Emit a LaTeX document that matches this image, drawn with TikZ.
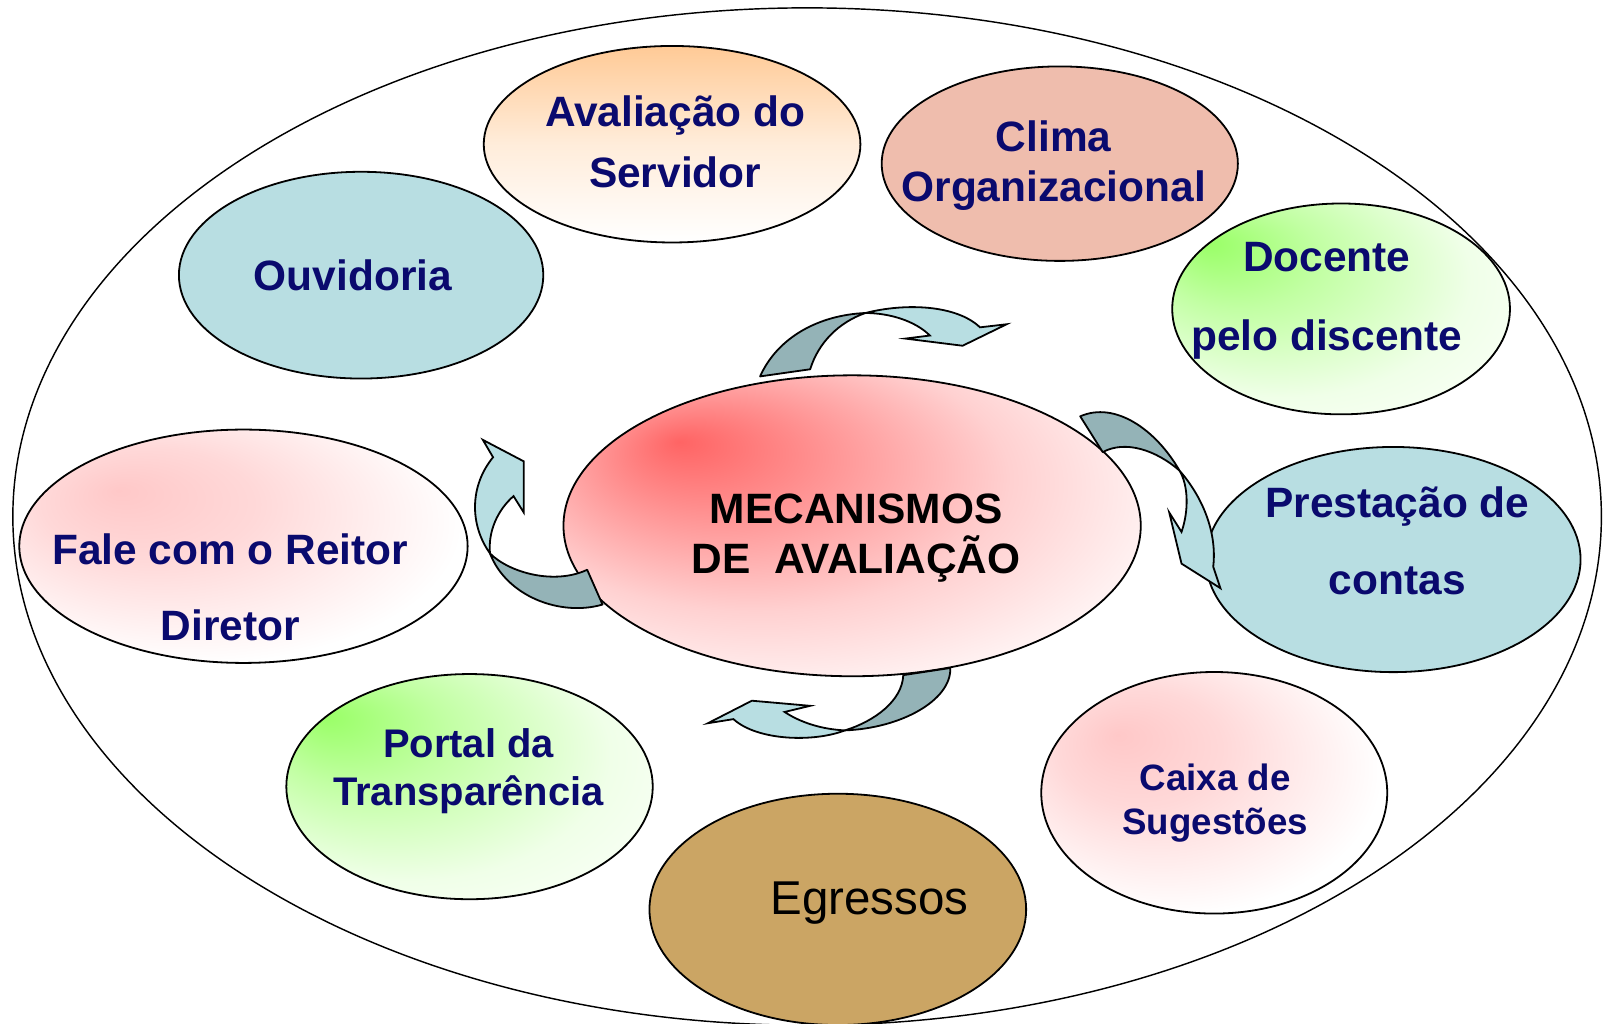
\documentclass[tikz,border=0pt]{standalone}
\usepackage{fontspec}
\setmainfont{Liberation Sans}
\usetikzlibrary{shapes.geometric}

\definecolor{navytext}{HTML}{0A0A6E}
\definecolor{paleblue}{HTML}{B8DEE2}
\definecolor{darkribbon}{HTML}{94B3B7}
\definecolor{salmon}{HTML}{EFBDAD}
\definecolor{tan}{HTML}{CBA564}
\definecolor{glowred}{HTML}{FF6464}
\definecolor{glowgreen}{HTML}{99FF66}
\definecolor{glowpink}{HTML}{FFC8C8}
\definecolor{gloworange}{HTML}{FFCA96}

% corner glows
\pgfdeclareradialshading{redglow}{\pgfpoint{-15bp}{14bp}}{color(0bp)=(glowred);color(8bp)=(glowred!75!white);color(22bp)=(glowred!30!white);color(36bp)=(white);color(50bp)=(white)}
\pgfdeclareradialshading{greenglow}{\pgfpoint{-20bp}{16bp}}{color(0bp)=(glowgreen);color(12bp)=(glowgreen!60!white);color(28bp)=(glowgreen!15!white);color(42bp)=(white);color(50bp)=(white)}
\pgfdeclareradialshading{pinkglow}{\pgfpoint{-14bp}{12bp}}{color(0bp)=(glowpink);color(12bp)=(glowpink!70!white);color(30bp)=(white);color(50bp)=(white)}

\begin{document}
\begin{tikzpicture}[x=0.01cm, y=-0.01cm]
\tikzstyle{bubble}=[ellipse, draw=black, line width=0.5pt, inner sep=0pt]
\tikzstyle{lbl}=[font=\fontsize{11.8}{14}\selectfont\bfseries, text=navytext, align=center, inner sep=0pt]
\tikzstyle{ribbonback}=[fill=darkribbon, draw=black, line width=0.5pt, line join=round]
\tikzstyle{ribbonfront}=[fill=paleblue, draw=black, line width=0.5pt, line join=miter]
    \useasboundingbox (0,0) rectangle (1568,1001);
    \fill[white] (0,0) rectangle (1568,1001);

    \node[bubble, line width=0.4pt, minimum width=15.52cm, minimum height=9.94cm] (rim) at (789,505) {};

    \node[bubble, top color=gloworange, bottom color=white, middle color=gloworange!35!white,
          minimum width=3.68cm, minimum height=1.92cm] (servidor) at (657,141) {};
    \node[bubble, fill=salmon, minimum width=3.48cm, minimum height=1.90cm] (clima) at (1036,160) {};
    \node[bubble, fill=paleblue, minimum width=3.56cm, minimum height=2.02cm] (ouvidoria) at (353,269) {};
    \node[bubble, shade, shading=greenglow, minimum width=3.30cm, minimum height=2.06cm] (docente) at (1311,302) {};
    \node[bubble, shade, shading=pinkglow, minimum width=4.38cm, minimum height=2.28cm] (reitor) at (238,534) {};
    \node[bubble, fill=paleblue, minimum width=3.66cm, minimum height=2.20cm] (contas) at (1362,547) {};
    \node[bubble, shade, shading=greenglow, minimum width=3.58cm, minimum height=2.20cm] (portal) at (459,769) {};
    \node[bubble, shade, shading=pinkglow, minimum width=3.38cm, minimum height=2.36cm] (caixa) at (1187,775) {};
    \node[bubble, fill=tan, minimum width=3.68cm, minimum height=2.26cm] (egressos) at (819,889) {};
    \node[bubble, shade, shading=redglow, minimum width=5.64cm, minimum height=2.94cm] (centro) at (833,514) {};

    % curved arrows round the centre
    \filldraw[ribbonback] (743,368) .. controls (760,330) and (800,308) .. (846,306)
        .. controls (820,315) and (800,335) .. (792,361) -- cycle;
    \filldraw[ribbonfront] (846,306) .. controls (885,296) and (935,298) .. (958,320)
        -- (984,317) -- (941,338) -- (885,331) -- (909,328)
        .. controls (895,314) and (870,306) .. cycle;

    \filldraw[ribbonback] (1056,407) .. controls (1090,392) and (1130,420) .. (1153,460)
        .. controls (1130,440) and (1100,430) .. (1078,442) -- cycle;
    \filldraw[ribbonfront] (1153,460) .. controls (1175,485) and (1190,520) .. (1186,554)
        -- (1193,575) -- (1155,551) -- (1143,501) -- (1155,520)
        .. controls (1162,500) and (1162,475) .. cycle;

    \filldraw[ribbonback] (589,591) .. controls (548,603) and (495,583) .. (479,541)
        .. controls (498,560) and (542,572) .. (574,557) -- cycle;
    \filldraw[ribbonfront] (479,541) .. controls (459,513) and (459,475) .. (482,447)
        -- (472,430) -- (512,451) -- (512,501) -- (502,485)
        .. controls (486,499) and (477,520) .. cycle;

    \filldraw[ribbonback] (929,653) .. controls (930,685) and (880,712) .. (826,714)
        .. controls (855,705) and (882,685) .. (883,660) -- cycle;
    \filldraw[ribbonfront] (826,714) .. controls (795,726) and (740,724) .. (717,703)
        -- (692,707) -- (735,685) -- (792,690) -- (767,696)
        .. controls (782,706) and (803,713) .. cycle;

    % labels
    \node[lbl] (servidor-txt) at (660,139) {Avaliação do\\[3pt]Servidor};
    \node[lbl] (clima-txt) at (1030,162) {Clima\\Organizacional};
    \node[lbl] (ouvidoria-txt) at (345,269) {Ouvidoria};
    \node[lbl] (docente-txt) at (1297,294) {Docente\\[8pt]pelo discente};
    \node[lbl, text=black] (centro-txt) at (837,526) {MECANISMOS\\DE\ \ AVALIAÇÃO};
    \node[lbl] (reitor-txt) at (225,574) {Fale com o Reitor\\[7pt]Diretor};
    \node[lbl] (contas-txt) at (1366,529) {Prestação de\\[7.5pt]contas};
    \node[lbl, font=\fontsize{11.1}{13.4}\selectfont\bfseries] (portal-txt) at (458,754) {Portal da\\Transparência};
    \node[lbl, font=\fontsize{10.2}{12.2}\selectfont\bfseries] (caixa-txt) at (1188,785) {Caixa de\\Sugestões};
    \node[lbl, font=\fontsize{13.2}{16}\selectfont, text=black] (egressos-txt) at (850,883) {Egressos};
\end{tikzpicture}
\end{document}
